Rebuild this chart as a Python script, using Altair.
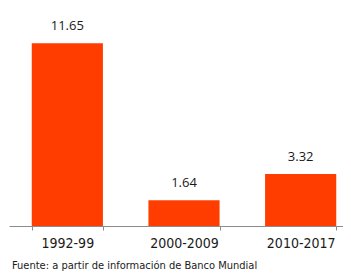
import altair as alt
import pandas as pd

periods = ["1992-99", "2000-2009", "2010-2017"]
values = [11.65, 1.64, 3.32]
value_labels = ["11.65", "1.64", "3.32"]
source_note = ["Fuente: a partir de información de Banco Mundial"]

df = pd.DataFrame({"period": periods, "value": values, "label": value_labels})
note_df = pd.DataFrame({"note": source_note})

NARROW = "'Liberation Sans Narrow', 'Arial Narrow', 'DejaVu Sans Condensed', 'Liberation Sans', sans-serif"

x_scale = alt.Scale(paddingInner=0.39, paddingOuter=0.195)
x_enc = alt.X(
    "period:N",
    sort=periods,
    title=None,
    scale=x_scale,
    axis=alt.Axis(
        labelAngle=0,
        labelFont=NARROW,
        labelFontSize=14,
        labelColor="#1a1a1a",
        labelPadding=6,
        domainColor="#8c8c8c",
        domainWidth=1,
        tickColor="#8c8c8c",
        tickSize=4,
        tickBand="extent",
        grid=False,
    ),
)
y_enc = alt.Y("value:Q", scale=alt.Scale(domain=[0, 13]), axis=None)

bars = alt.Chart(df).mark_bar(color="#FF3D00").encode(x=x_enc, y=y_enc)

labels = alt.Chart(df).mark_text(
    baseline="alphabetic", dy=-13, font="Open Sans", fontSize=13, color="#1a1a1a"
).encode(x=x_enc, y=y_enc, text="label:N")

note = alt.Chart(note_df).mark_text(
    align="left", baseline="alphabetic", font=NARROW,
    fontSize=11, color="#1a1a1a"
).encode(x=alt.value(3), y=alt.value(247), text="note:N")

chart = alt.layer(bars, labels, note).properties(
    width=350,
    height=204,
    autosize=alt.AutoSizeParams(type="none"),
    padding={"left": 1, "top": 14, "right": -16, "bottom": 47},
).configure_view(stroke=None)

chart.save("out.html", embed_options={"renderer": "svg", "actions": False})
